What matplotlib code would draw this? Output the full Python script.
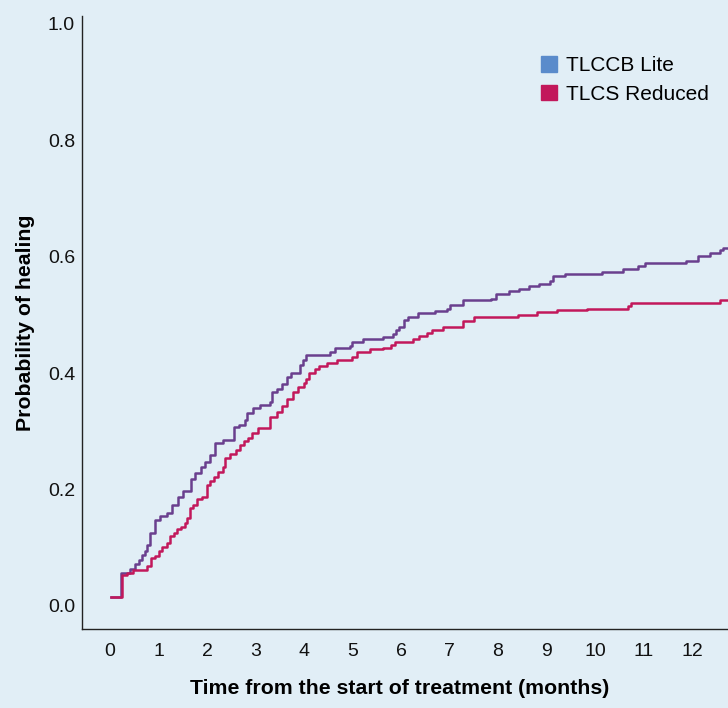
import matplotlib.pyplot as plt
from matplotlib.patches import Patch

# step curves: time (months) where the value changes, and the value from there on
lite_t = [0.02, 0.23, 0.42, 0.52, 0.59, 0.67, 0.72, 0.76, 0.82, 0.93, 1.03, 1.17, 1.27,
          1.41, 1.51, 1.67, 1.75, 1.87, 1.96, 2.06, 2.16, 2.34, 2.56, 2.65, 2.78, 2.82,
          2.94, 3.09, 3.3, 3.33, 3.44, 3.54, 3.64, 3.73, 3.92, 3.97, 4.04, 4.54, 4.64,
          4.95, 4.98, 5.22, 5.62, 5.83, 5.9, 5.96, 6.06, 6.14, 6.36, 6.7, 6.94, 7.0,
          7.27, 7.86, 7.96, 8.23, 8.44, 8.64, 8.85, 9.07, 9.14, 9.37, 10.14, 10.57,
          10.89, 11.02, 11.88, 12.12, 12.36, 12.57, 12.63, 12.75]
lite_p = [0.016, 0.056, 0.063, 0.073, 0.079, 0.088, 0.094, 0.105, 0.125, 0.148, 0.155,
          0.16, 0.174, 0.188, 0.198, 0.219, 0.228, 0.239, 0.248, 0.259, 0.28, 0.286,
          0.308, 0.311, 0.32, 0.332, 0.341, 0.345, 0.351, 0.367, 0.372, 0.381, 0.394,
          0.4, 0.414, 0.422, 0.431, 0.437, 0.443, 0.447, 0.454, 0.458, 0.462, 0.467,
          0.474, 0.48, 0.491, 0.496, 0.504, 0.507, 0.511, 0.518, 0.525, 0.527, 0.536,
          0.541, 0.545, 0.549, 0.554, 0.559, 0.567, 0.57, 0.574, 0.579, 0.585, 0.589,
          0.593, 0.601, 0.606, 0.612, 0.615, 0.615]

red_t = [0.02, 0.25, 0.35, 0.48, 0.76, 0.84, 0.92, 1.01, 1.08, 1.18, 1.24, 1.32, 1.39,
         1.47, 1.55, 1.59, 1.66, 1.72, 1.79, 1.9, 2.01, 2.07, 2.14, 2.23, 2.32, 2.37,
         2.47, 2.6, 2.68, 2.76, 2.85, 2.92, 3.06, 3.3, 3.44, 3.54, 3.64, 3.78, 3.88,
         3.99, 4.05, 4.1, 4.23, 4.3, 4.47, 4.69, 4.98, 5.1, 5.37, 5.62, 5.79, 5.88,
         6.25, 6.38, 6.53, 6.63, 6.86, 7.27, 7.51, 8.42, 8.8, 9.21, 9.83, 10.67,
         10.75, 12.58, 12.75]
red_p = [0.016, 0.053, 0.057, 0.061, 0.069, 0.082, 0.086, 0.095, 0.101, 0.108, 0.12,
         0.125, 0.132, 0.136, 0.143, 0.152, 0.168, 0.174, 0.183, 0.188, 0.208, 0.215,
         0.222, 0.231, 0.238, 0.255, 0.262, 0.268, 0.277, 0.283, 0.288, 0.297, 0.305,
         0.325, 0.334, 0.344, 0.355, 0.368, 0.377, 0.384, 0.39, 0.401, 0.407, 0.412,
         0.417, 0.423, 0.427, 0.437, 0.441, 0.444, 0.448, 0.454, 0.458, 0.464, 0.469,
         0.474, 0.479, 0.489, 0.496, 0.5, 0.505, 0.508, 0.511, 0.515, 0.52, 0.526,
         0.526]

x_ticks = list(range(13))
y_ticks = [0.0, 0.2, 0.4, 0.6, 0.8, 1.0]

bg = "#e1eef6"
purple = "#6a3f8e"
red = "#c2185b"
legend_blue = "#5a8bcb"

plt.rcParams['font.family'] = ['Liberation Sans Narrow', 'Liberation Sans', 'DejaVu Sans']
wide = ['Liberation Sans', 'DejaVu Sans']

fig = plt.figure(figsize=(7.28, 7.08), dpi=100, facecolor=bg)
ax = fig.add_axes([0.1126, 0.1116, 0.8874, 0.8658])
ax.set_facecolor(bg)

ax.step(lite_t, lite_p, where="post", color=purple, lw=1.8)
ax.step(red_t, red_p, where="post", color=red, lw=1.8)

ax.set_xlim(-0.577, 12.74)
ax.set_ylim(-0.0395, 1.0137)
ax.set_xticks(x_ticks)
ax.set_yticks(y_ticks)
ax.set_yticklabels([f"{v:.1f}" for v in y_ticks])
ax.tick_params(length=0, labelsize=14, colors="#111111")
ax.tick_params(axis="x", pad=10)
ax.tick_params(axis="y", pad=5)

for s in ["top", "right"]:
    ax.spines[s].set_visible(False)
for s in ["left", "bottom"]:
    ax.spines[s].set_color("#222222")
    ax.spines[s].set_linewidth(1.0)

ax.set_xlabel("Time from the start of treatment (months)", fontsize=15.3,
              fontweight="bold", labelpad=14, family=wide)
ax.xaxis.set_label_coords(0.492, -0.082)
ax.set_ylabel("Probability of healing", fontsize=15.3, fontweight="bold", labelpad=9,
              family=wide)

handles = [Patch(color=legend_blue, label="TLCCB Lite"),
           Patch(color=red, label="TLCS Reduced")]
ax.legend(handles=handles, loc="upper right", bbox_to_anchor=(1.0, 0.965),
          frameon=False, handlelength=0.75, handleheight=0.75,
          handletextpad=0.45, labelspacing=0.45,
          prop={'family': wide, 'size': 15})

fig.savefig("out.png", dpi=100, facecolor=bg)
